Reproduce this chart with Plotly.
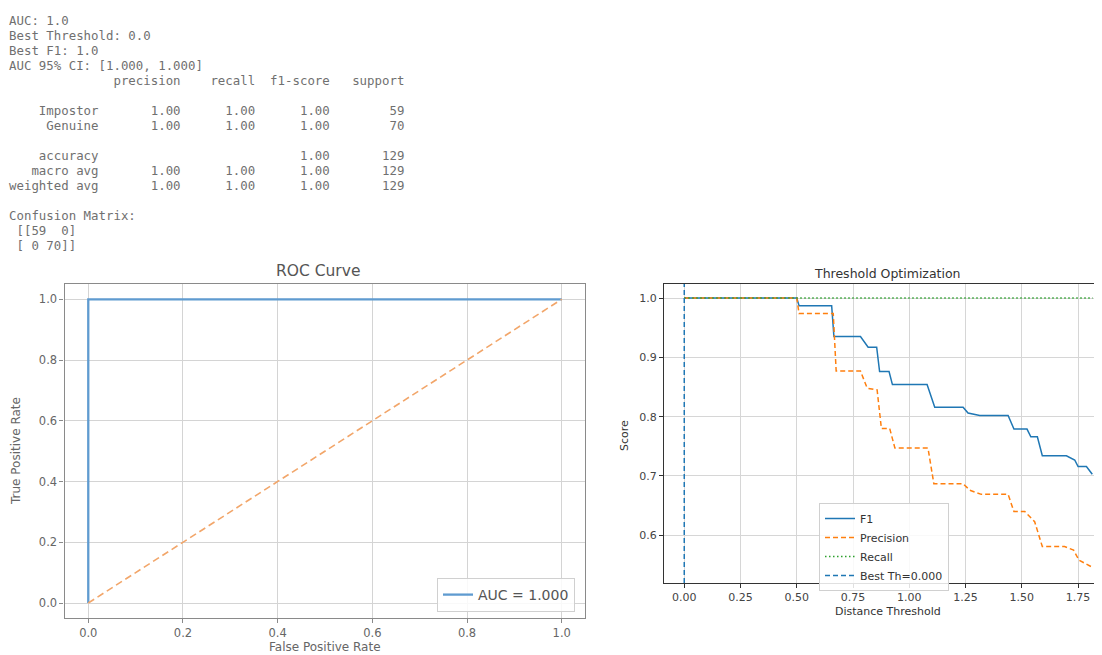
import plotly.graph_objects as go

W, H = 1102, 655
PAGE_OFFSET = 8  # default body margin of the html page

# ---------------- report data ----------------
auc_value = 1.0
best_threshold = 0.0
best_f1 = 1.0
auc_ci = [1.000, 1.000]
report_headers = ["precision", "recall", "f1-score", "support"]
class_names = ["Impostor", "Genuine"]
class_precision = [1.00, 1.00]
class_recall = [1.00, 1.00]
class_f1 = [1.00, 1.00]
class_support = [59, 70]
accuracy = 1.00
total_support = 129
macro_avg = [1.00, 1.00, 1.00]
weighted_avg = [1.00, 1.00, 1.00]
confusion = [[59, 0], [0, 70]]

# ---------------- ROC data ----------------
roc_fpr = [0.0, 0.0, 1.0]
roc_tpr = [0.0, 1.0, 1.0]
chance_fpr = [0.0, 1.0]
chance_tpr = [0.0, 1.0]
roc_label = "AUC = 1.000"

# ---------------- threshold optimisation data ----------------
f1_thresholds = [0.0, 0.50, 0.51, 0.655, 0.665, 0.783, 0.817, 0.855, 0.868, 0.91, 0.925,
                 1.079, 1.113, 1.239, 1.261, 1.313, 1.439, 1.465, 1.523, 1.54, 1.569,
                 1.591, 1.698, 1.735, 1.75, 1.787, 1.813]
f1_scores = [1.0, 1.0, 0.987, 0.987, 0.935, 0.935, 0.917, 0.917, 0.876, 0.876, 0.854,
             0.854, 0.816, 0.816, 0.806, 0.802, 0.802, 0.779, 0.779, 0.766, 0.766,
             0.734, 0.734, 0.727, 0.716, 0.716, 0.703]
precision_thresholds = [0.0, 0.50, 0.51, 0.662, 0.675, 0.783, 0.813, 0.857, 0.876, 0.913,
                        0.936, 1.083, 1.109, 1.239, 1.269, 1.32, 1.439, 1.465, 1.513,
                        1.557, 1.591, 1.69, 1.73, 1.754, 1.809]
precision_scores = [1.0, 1.0, 0.974, 0.974, 0.877, 0.877, 0.848, 0.845, 0.780, 0.780,
                    0.747, 0.747, 0.687, 0.687, 0.676, 0.669, 0.669, 0.640, 0.640,
                    0.623, 0.581, 0.581, 0.575, 0.558, 0.547]
recall_thresholds = [0.0, 1.815]
recall_scores = [1.0, 1.0]
best_label = "Best Th=0.000"

# ---------------- layout geometry (window pixels -> paper) ----------------
def px(x):
    return (x - PAGE_OFFSET) / W

def py(y):
    return 1 - (y - PAGE_OFFSET) / H

roc_x_range = [-0.05, 1.05]
roc_y_range = [-0.05, 1.05]
thr_x_range = [-0.09, 1.89]
thr_y_range = [0.5196, 1.0236]

fig = go.Figure()

# ROC curve
fig.add_trace(go.Scatter(x=roc_fpr, y=roc_tpr, mode="lines", name=roc_label,
                         line=dict(color="#5f9bd0", width=2.3),
                         xaxis="x", yaxis="y", legend="legend"))
fig.add_trace(go.Scatter(x=chance_fpr, y=chance_tpr, mode="lines", showlegend=False,
                         line=dict(color="#f2a66a", width=1.6, dash="7px,4px"),
                         xaxis="x", yaxis="y"))

# Threshold optimisation
fig.add_trace(go.Scatter(x=f1_thresholds, y=f1_scores, mode="lines", name="F1",
                         line=dict(color="#1f77b4", width=1.5),
                         xaxis="x2", yaxis="y2", legend="legend2"))
fig.add_trace(go.Scatter(x=precision_thresholds, y=precision_scores, mode="lines",
                         name="Precision",
                         line=dict(color="#ff7f0e", width=1.5, dash="5px,3px"),
                         xaxis="x2", yaxis="y2", legend="legend2"))
fig.add_trace(go.Scatter(x=recall_thresholds, y=recall_scores, mode="lines",
                         name="Recall",
                         line=dict(color="#2ca02c", width=1.5, dash="1.5px,2.5px"),
                         xaxis="x2", yaxis="y2", legend="legend2"))
fig.add_trace(go.Scatter(x=[best_threshold, best_threshold], y=thr_y_range,
                         mode="lines", name=best_label,
                         line=dict(color="#1f77b4", width=1.5, dash="5px,3px"),
                         xaxis="x2", yaxis="y2", legend="legend2"))

roc_tick_font = dict(family="DejaVu Sans", size=11.5, color="#666666")
thr_tick_font = dict(family="DejaVu Sans", size=11, color="#444444")

fig.update_layout(
    width=W, height=H,
    margin=dict(l=0, r=0, t=0, b=0),
    paper_bgcolor="white", plot_bgcolor="white",
    xaxis=dict(domain=[px(64.6), px(585.4)], range=roc_x_range, tickvals=[0, 0.2, 0.4, 0.6, 0.8, 1.0],
               tickformat=".1f", showgrid=True, gridcolor="#d4d4d4", gridwidth=1,
               zeroline=False, showline=True, linecolor="#8a8a8a", linewidth=1.3, mirror=True,
               ticks="outside", ticklen=4, tickcolor="#8a8a8a", tickfont=roc_tick_font,
               anchor="y"),
    yaxis=dict(domain=[py(618.2), py(284.1)], range=roc_y_range, tickvals=[0, 0.2, 0.4, 0.6, 0.8, 1.0],
               tickformat=".1f", showgrid=True, gridcolor="#d4d4d4", gridwidth=1,
               zeroline=False, showline=True, linecolor="#8a8a8a", linewidth=1.3, mirror=True,
               ticks="outside", ticklen=4, tickcolor="#8a8a8a", tickfont=roc_tick_font,
               anchor="x"),
    xaxis2=dict(domain=[px(664), min(1.0, px(1109.6))], range=thr_x_range,
                tickvals=[0, 0.25, 0.5, 0.75, 1.0, 1.25, 1.5, 1.75], tickformat=".2f",
                showgrid=True, gridcolor="#d6d6d6", gridwidth=1, zeroline=False,
                showline=True, linecolor="#333333", linewidth=1, mirror=True,
                ticks="outside", ticklen=4, tickcolor="#333333", tickfont=thr_tick_font,
                anchor="y2"),
    yaxis2=dict(domain=[py(583), py(284)], range=thr_y_range,
                tickvals=[0.6, 0.7, 0.8, 0.9, 1.0], tickformat=".1f",
                showgrid=True, gridcolor="#d6d6d6", gridwidth=1, zeroline=False,
                showline=True, linecolor="#333333", linewidth=1, mirror=False,
                ticks="outside", ticklen=4, tickcolor="#333333", tickfont=thr_tick_font,
                anchor="x2"),
    legend=dict(x=px(575), y=py(612), xanchor="right", yanchor="bottom",
                bgcolor="rgba(255,255,255,0.85)", bordercolor="#d0d0d0", borderwidth=1,
                font=dict(family="DejaVu Sans", size=14, color="#555555"),
                tracegroupgap=0, itemwidth=30),
    legend2=dict(x=px(819), y=py(503), xanchor="left", yanchor="top",
                 bgcolor="rgba(255,255,255,0.85)", bordercolor="#d0d0d0", borderwidth=1,
                 font=dict(family="DejaVu Sans", size=11, color="#333333"),
                 tracegroupgap=0, itemwidth=30),
)

annotations = []

# titles and axis labels
annotations.append(dict(text="ROC Curve", x=px(318), y=py(271), xref="paper", yref="paper",
                        showarrow=False, xanchor="center", yanchor="middle",
                        font=dict(family="DejaVu Sans", size=15.5, color="#555555")))
annotations.append(dict(text="False Positive Rate", x=px(325), y=py(647), xref="paper", yref="paper",
                        showarrow=False, xanchor="center", yanchor="middle",
                        font=dict(family="DejaVu Sans", size=12, color="#666666")))
annotations.append(dict(text="True Positive Rate", x=px(16), y=py(451), xref="paper", yref="paper",
                        showarrow=False, xanchor="center", yanchor="middle", textangle=-90,
                        font=dict(family="DejaVu Sans", size=12, color="#666666")))
annotations.append(dict(text="Threshold Optimization", x=px(887), y=py(273), xref="paper", yref="paper",
                        showarrow=False, xanchor="center", yanchor="middle",
                        font=dict(family="DejaVu Sans", size=12.5, color="#333333")))
annotations.append(dict(text="Distance Threshold", x=px(888), y=py(611), xref="paper", yref="paper",
                        showarrow=False, xanchor="center", yanchor="middle",
                        font=dict(family="DejaVu Sans", size=11, color="#333333")))
annotations.append(dict(text="Score", x=px(625), y=py(436), xref="paper", yref="paper",
                        showarrow=False, xanchor="center", yanchor="middle", textangle=-90,
                        font=dict(family="DejaVu Sans", size=11, color="#333333")))

# text report
wd = 12
lines = []
lines.append(f"AUC: {auc_value}")
lines.append(f"Best Threshold: {best_threshold}")
lines.append(f"Best F1: {best_f1}")
lines.append(f"AUC 95% CI: [{auc_ci[0]:.3f}, {auc_ci[1]:.3f}]")
lines.append(" " * wd + " " + "".join(f" {h:>9}" for h in report_headers))
lines.append("")
for n, p, r, f, s in zip(class_names, class_precision, class_recall, class_f1, class_support):
    lines.append(f"{n:>{wd}} " + f" {p:>9.2f}" + f" {r:>9.2f}" + f" {f:>9.2f}" + f" {s:>9}")
lines.append("")
lines.append(f"{'accuracy':>{wd}} " + f" {'':>9}" * 2 + f" {accuracy:>9.2f}" + f" {total_support:>9}")
lines.append(f"{'macro avg':>{wd}} " + "".join(f" {v:>9.2f}" for v in macro_avg) + f" {total_support:>9}")
lines.append(f"{'weighted avg':>{wd}} " + "".join(f" {v:>9.2f}" for v in weighted_avg) + f" {total_support:>9}")
lines.append("")
lines.append("Confusion Matrix:")
lines.append(f" [[{confusion[0][0]:2d} {confusion[0][1]:2d}]")
lines.append(f" [{confusion[1][0]:2d} {confusion[1][1]:2d}]]")

for i, ln in enumerate(lines):
    if not ln.strip():
        continue
    annotations.append(dict(text=ln.replace(" ", "\u00a0"), x=px(7), y=py(20 + 15.05 * i),
                            xref="paper", yref="paper", showarrow=False,
                            xanchor="left", yanchor="middle",
                            font=dict(family="DejaVu Sans Mono", size=12.4, color="#707070")))

fig.update_layout(annotations=annotations)

fig.write_html("out.html")
